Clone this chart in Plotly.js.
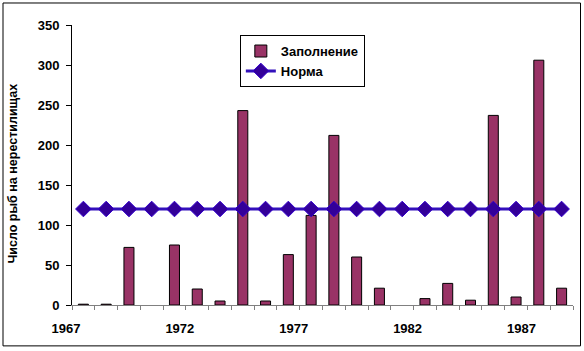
<!DOCTYPE html>
<html>
<head>
<meta charset="utf-8">
<script src="https://cdn.plot.ly/plotly-3.0.1.min.js"></script>
<style>html,body{margin:0;padding:0;background:#fff;}#chart{width:584px;height:351px;}</style>
</head>
<body>
<div id="chart"></div>
<script>
// Data
var years = ['1967','1968','1969','1970','1971','1972','1973','1974','1975','1976','1977',
             '1978','1979','1980','1981','1982','1983','1984','1985','1986','1987','1988'];
var fill  = [1, 1, 72, 0, 75, 20, 5, 243, 5, 63, 112, 212, 60, 21, 0, 8, 27, 6, 237, 10, 306, 21];
var norm  = [120,120,120,120,120,120,120,120,120,120,120,120,120,120,120,120,120,120,120,120,120,120];
var seriesNames = ['Заполнение', 'Норма'];
var yTitle = 'Число рыб на нерестилищах';

var xDates = years.map(function (y) { return y + '-01-01'; });
var fam = 'Liberation Sans, Arial, sans-serif';
var font = {family: fam, size: 13, color: '#000'};
var bfont = {family: fam, size: 13, color: '#000', weight: 'bold'};

var traces = [
  {
    type: 'bar', name: seriesNames[0], x: xDates, y: fill,
    xperiod: 'M12', xperiodalignment: 'middle',
    marker: {color: '#993366', line: {color: '#000', width: fill.map(function (v) { return v > 0 ? 1 : 0; })}}
  },
  {
    type: 'scatter', mode: 'lines+markers', name: seriesNames[1], x: xDates, y: norm,
    xperiod: 'M12', xperiodalignment: 'middle',
    line: {color: '#3311bb', width: 3},
    marker: {symbol: 'diamond', size: 12, color: '#330099', line: {color: '#3300cc', width: 1}}
  }
];

var layout = {
  width: 584, height: 351,
  margin: {l: 72, r: 11, t: 25, b: 46},
  paper_bgcolor: '#fff', plot_bgcolor: '#fff',
  font: font,
  bargap: 0.56,
  showlegend: true,
  legend: {
    x: 0.335, y: 0.964, xanchor: 'left', yanchor: 'top',
    bgcolor: '#fff', bordercolor: '#000', borderwidth: 1,
    font: bfont, tracegroupgap: 0
  },
  xaxis: {
    type: 'date',
    range: ['1967-01-01', '1989-01-01'],
    tick0: '1967-01-01', dtick: 'M60', tickformat: '%Y',
    ticks: 'outside', ticklen: 4, tickcolor: '#808080', tickwidth: 1,
    minor: {dtick: 'M12', tick0: '1967-01-01', ticks: 'outside', ticklen: 4, tickcolor: '#808080', tickwidth: 1},
    showline: true, linecolor: '#808080', linewidth: 1,
    showgrid: false, zeroline: false,
    tickfont: bfont, ticklabelshift: -6, ticklabelstandoff: 7,
    fixedrange: true
  },
  xaxis2: {
    type: 'date', overlaying: 'x', matches: 'x', anchor: 'y',
    range: ['1967-01-01', '1989-01-01'],
    tick0: '1967-01-01', dtick: 'M12',
    ticks: 'inside', ticklen: 3, tickcolor: '#808080', tickwidth: 1,
    showticklabels: false, showline: false, showgrid: false, zeroline: false
  },
  yaxis: {
    range: [0, 350], dtick: 50,
    ticks: 'outside', ticklen: 5, tickcolor: '#000', tickwidth: 1,
    showline: true, linecolor: '#000', linewidth: 1,
    showgrid: false, zeroline: false,
    tickfont: bfont, ticklabelstandoff: 4,
    fixedrange: true
  },
  yaxis2: {
    overlaying: 'y', matches: 'y', anchor: 'x',
    range: [0, 350], dtick: 50,
    ticks: 'inside', ticklen: 4, tickcolor: '#000', tickwidth: 1,
    showticklabels: false, showline: false, showgrid: false, zeroline: false
  },
  annotations: [{
    text: yTitle, xref: 'paper', yref: 'paper',
    x: -0.1178, y: 0.4696, xanchor: 'center', yanchor: 'middle',
    textangle: -90, showarrow: false,
    font: {family: fam, size: 12.5, color: '#000', weight: 'bold'}
  }],
  shapes: [{
    type: 'rect', xref: 'paper', yref: 'paper',
    x0: -0.1377, x1: 1.0150, y0: -0.1460, y1: 1.0786,
    line: {color: '#000', width: 1}, fillcolor: 'rgba(0,0,0,0)', layer: 'below'
  }]
};

Plotly.newPlot('chart', traces, layout, {displayModeBar: false, staticPlot: true});
</script>
</body>
</html>
